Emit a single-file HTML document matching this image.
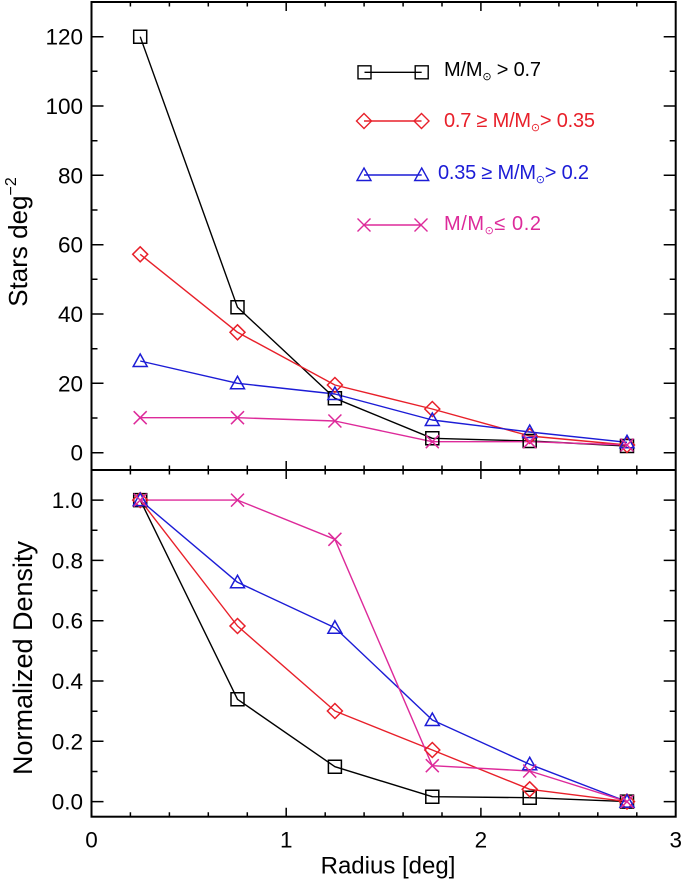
<!DOCTYPE html>
<html>
<head>
<meta charset="utf-8">
<style>
html,body{margin:0;padding:0;background:#fff;}
svg{display:block;}
text{font-family:"Liberation Sans","DejaVu Sans",sans-serif;}
</style>
</head>
<body>
<svg width="683" height="880" viewBox="0 0 683 880" xmlns="http://www.w3.org/2000/svg">
<defs>
  <path id="sq" d="M-6.5-6.5h13v13h-13z" fill="none"/>
  <path id="di" d="M0-7.5L7.5 0L0 7.5L-7.5 0Z" fill="none"/>
  <path id="tr" d="M0-7L7 5.5L-7 5.5Z" fill="none"/>
  <path id="xx" d="M-6.5-6.5L6.5 6.5M6.5-6.5L-6.5 6.5" fill="none"/>
</defs>

<!-- frame -->
<g stroke="#000" stroke-width="2" fill="none">
  <rect x="91.5" y="2" width="584.2" height="814.7"/>
  <line x1="91.5" y1="470" x2="675.7" y2="470"/>
</g>

<!-- ticks -->
<g stroke="#000" stroke-width="1.5" fill="none">
  <path d="M91.5 452.7h12M91.5 383.3h12M91.5 314h12M91.5 244.7h12M91.5 175.3h12M91.5 106h12M91.5 36.7h12"/>
  <path d="M91.5 418h6M91.5 348.7h6M91.5 279.3h6M91.5 210h6M91.5 140.7h6M91.5 71.3h6"/>
  <path d="M675.7 452.7h-12M675.7 383.3h-12M675.7 314h-12M675.7 244.7h-12M675.7 175.3h-12M675.7 106h-12M675.7 36.7h-12"/>
  <path d="M675.7 418h-6M675.7 348.7h-6M675.7 279.3h-6M675.7 210h-6M675.7 140.7h-6M675.7 71.3h-6"/>
  <path d="M91.5 801.6h12M91.5 741.3h12M91.5 681h12M91.5 620.7h12M91.5 560.4h12M91.5 500.1h12"/>
  <path d="M91.5 771.5h6M91.5 711.2h6M91.5 650.9h6M91.5 590.6h6M91.5 530.3h6"/>
  <path d="M675.7 801.6h-12M675.7 741.3h-12M675.7 681h-12M675.7 620.7h-12M675.7 560.4h-12M675.7 500.1h-12"/>
  <path d="M675.7 771.5h-6M675.7 711.2h-6M675.7 650.9h-6M675.7 590.6h-6M675.7 530.3h-6"/>
  <path d="M286.2 2v9M480.9 2v9"/>
  <path d="M130.4 2v4.5M169.4 2v4.5M208.3 2v4.5M247.3 2v4.5M325.2 2v4.5M364.1 2v4.5M403.1 2v4.5M442 2v4.5M519.9 2v4.5M558.9 2v4.5M597.8 2v4.5M636.8 2v4.5"/>
  <path d="M286.2 470v-9M480.9 470v-9"/>
  <path d="M130.4 470v-4.5M169.4 470v-4.5M208.3 470v-4.5M247.3 470v-4.5M325.2 470v-4.5M364.1 470v-4.5M403.1 470v-4.5M442 470v-4.5M519.9 470v-4.5M558.9 470v-4.5M597.8 470v-4.5M636.8 470v-4.5"/>
  <path d="M286.2 470v9M480.9 470v9"/>
  <path d="M130.4 470v4.5M169.4 470v4.5M208.3 470v4.5M247.3 470v4.5M325.2 470v4.5M364.1 470v4.5M403.1 470v4.5M442 470v4.5M519.9 470v4.5M558.9 470v4.5M597.8 470v4.5M636.8 470v4.5"/>
  <path d="M286.2 816.7v-9M480.9 816.7v-9"/>
  <path d="M130.4 816.7v-4.5M169.4 816.7v-4.5M208.3 816.7v-4.5M247.3 816.7v-4.5M325.2 816.7v-4.5M364.1 816.7v-4.5M403.1 816.7v-4.5M442 816.7v-4.5M519.9 816.7v-4.5M558.9 816.7v-4.5M597.8 816.7v-4.5M636.8 816.7v-4.5"/>
</g>

<!-- tick labels -->
<g font-size="22.5" fill="#000" text-anchor="end">
  <text x="83" y="44.7">120</text>
  <text x="83" y="114">100</text>
  <text x="83" y="183.3">80</text>
  <text x="83" y="252.7">60</text>
  <text x="83" y="322">40</text>
  <text x="83" y="391.3">20</text>
  <text x="83" y="460.7">0</text>
  <text x="83" y="508.1">1.0</text>
  <text x="83" y="568.4">0.8</text>
  <text x="83" y="628.7">0.6</text>
  <text x="83" y="689">0.4</text>
  <text x="83" y="749.3">0.2</text>
  <text x="83" y="809.6">0.0</text>
</g>
<g font-size="22.5" fill="#000" text-anchor="middle">
  <text x="91.5" y="847.5">0</text>
  <text x="286.2" y="847.5">1</text>
  <text x="480.9" y="847.5">2</text>
  <text x="675.7" y="847.5">3</text>
</g>

<!-- axis titles -->
<text x="388" y="873.3" font-size="24" text-anchor="middle">Radius [deg]</text>
<text transform="translate(27,242) rotate(-90)" font-size="26" text-anchor="middle">Stars deg<tspan font-size="16" dy="-11">−2</tspan></text>
<text transform="translate(32,658) rotate(-90)" font-size="27" text-anchor="middle">Normalized Density</text>

<!-- TOP PANEL SERIES -->
<g fill="none" stroke-width="1.4" stroke-linejoin="round">
  <polyline stroke="#000" points="140.2,36.7 237.5,307.3 334.9,398.3 432.3,438.3 529.7,441 627,446"/>
  <polyline stroke="#e8202a" points="140.2,254.3 237.5,332.3 334.9,385 432.3,409 529.7,436 627,445"/>
  <polyline stroke="#1c1cd6" points="140.2,361 237.5,383.3 334.9,394 432.3,420 529.7,432 627,442.3"/>
  <polyline stroke="#dd2a9a" points="140.2,417.7 237.5,417.7 334.9,421 432.3,441.7 529.7,441.7 627,445"/>
</g>
<g stroke-width="1.5" fill="none">
  <g stroke="#000">
    <use href="#sq" x="140.2" y="36.7"/><use href="#sq" x="237.5" y="307.3"/><use href="#sq" x="334.9" y="398.3"/>
    <use href="#sq" x="432.3" y="438.3"/><use href="#sq" x="529.7" y="441"/><use href="#sq" x="627" y="446"/>
  </g>
  <g stroke="#e8202a">
    <use href="#di" x="140.2" y="254.3"/><use href="#di" x="237.5" y="332.3"/><use href="#di" x="334.9" y="385"/>
    <use href="#di" x="432.3" y="409"/><use href="#di" x="529.7" y="436"/><use href="#di" x="627" y="445"/>
  </g>
  <g stroke="#1c1cd6">
    <use href="#tr" x="140.2" y="361"/><use href="#tr" x="237.5" y="383.3"/><use href="#tr" x="334.9" y="394"/>
    <use href="#tr" x="432.3" y="420"/><use href="#tr" x="529.7" y="432"/><use href="#tr" x="627" y="442.3"/>
  </g>
  <g stroke="#dd2a9a">
    <use href="#xx" x="140.2" y="417.7"/><use href="#xx" x="237.5" y="417.7"/><use href="#xx" x="334.9" y="421"/>
    <use href="#xx" x="432.3" y="441.7"/><use href="#xx" x="529.7" y="441.7"/><use href="#xx" x="627" y="445"/>
  </g>
</g>

<!-- BOTTOM PANEL SERIES -->
<g fill="none" stroke-width="1.4" stroke-linejoin="round">
  <polyline stroke="#000" points="140.2,500.1 237.5,699.3 334.9,766.7 432.3,796.7 529.7,797.7 627,801.6"/>
  <polyline stroke="#e8202a" points="140.2,500.1 237.5,626 334.9,711 432.3,750 529.7,789.3 627,801.6"/>
  <polyline stroke="#1c1cd6" points="140.2,500.1 237.5,582.3 334.9,627.7 432.3,720 529.7,764.3 627,801.6"/>
  <polyline stroke="#dd2a9a" points="140.2,500.1 237.5,500.1 334.9,539.3 432.3,765.7 529.7,771 627,801.6"/>
</g>
<g stroke-width="1.5" fill="none">
  <g stroke="#000">
    <use href="#sq" x="140.2" y="500.1"/><use href="#sq" x="237.5" y="699.3"/><use href="#sq" x="334.9" y="766.7"/>
    <use href="#sq" x="432.3" y="796.7"/><use href="#sq" x="529.7" y="797.7"/><use href="#sq" x="627" y="801.6"/>
  </g>
  <g stroke="#e8202a">
    <use href="#di" x="140.2" y="500.1"/><use href="#di" x="237.5" y="626"/><use href="#di" x="334.9" y="711"/>
    <use href="#di" x="432.3" y="750"/><use href="#di" x="529.7" y="789.3"/><use href="#di" x="627" y="801.6"/>
  </g>
  <g stroke="#1c1cd6">
    <use href="#tr" x="140.2" y="500.1"/><use href="#tr" x="237.5" y="582.3"/><use href="#tr" x="334.9" y="627.7"/>
    <use href="#tr" x="432.3" y="720"/><use href="#tr" x="529.7" y="764.3"/><use href="#tr" x="627" y="801.6"/>
  </g>
  <g stroke="#dd2a9a">
    <use href="#xx" x="140.2" y="500.1"/><use href="#xx" x="237.5" y="500.1"/><use href="#xx" x="334.9" y="539.3"/>
    <use href="#xx" x="432.3" y="765.7"/><use href="#xx" x="529.7" y="771"/><use href="#xx" x="627" y="801.6"/>
  </g>
</g>

<!-- LEGEND -->
<g fill="none" stroke-width="1.4">
  <line x1="364.5" y1="72.3" x2="421.7" y2="72.3" stroke="#000"/>
  <use href="#sq" x="364.5" y="72.3" stroke="#000"/><use href="#sq" x="421.7" y="72.3" stroke="#000"/>
  <line x1="364" y1="121" x2="421.5" y2="121" stroke="#e8202a"/>
  <use href="#di" x="364" y="121" stroke="#e8202a"/><use href="#di" x="421.5" y="121" stroke="#e8202a"/>
  <line x1="364" y1="175" x2="421.7" y2="175" stroke="#1c1cd6"/>
  <use href="#tr" x="364" y="175" stroke="#1c1cd6"/><use href="#tr" x="421.7" y="175" stroke="#1c1cd6"/>
  <line x1="364" y1="225" x2="421" y2="225" stroke="#dd2a9a"/>
  <use href="#xx" x="364" y="225" stroke="#dd2a9a"/><use href="#xx" x="421" y="225" stroke="#dd2a9a"/>
</g>
<g font-size="20">
  <text x="444" y="76" fill="#000" textLength="97" lengthAdjust="spacing">M/M<tspan font-size="11" dy="4">⊙</tspan><tspan dy="-4"> &gt; 0.7</tspan></text>
  <text x="444" y="127" fill="#e8202a" textLength="151" lengthAdjust="spacing">0.7 ≥ M/M<tspan font-size="11" dy="4">⊙</tspan><tspan dy="-4">&gt; 0.35</tspan></text>
  <text x="438" y="179" fill="#1c1cd6" textLength="151" lengthAdjust="spacing">0.35 ≥ M/M<tspan font-size="11" dy="4">⊙</tspan><tspan dy="-4">&gt; 0.2</tspan></text>
  <text x="444" y="230" fill="#dd2a9a" textLength="97" lengthAdjust="spacing">M/M<tspan font-size="11" dy="4">⊙</tspan><tspan dy="-4">≤  0.2</tspan></text>
</g>
</svg>
</body>
</html>
